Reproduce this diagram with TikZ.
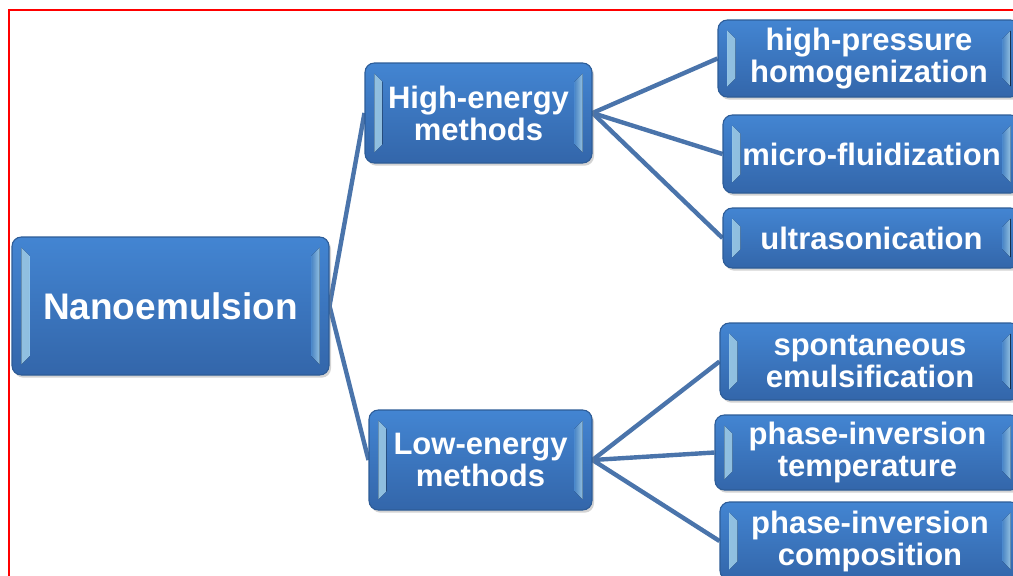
\documentclass[tikz,border=0pt]{standalone}
\usepackage{fontspec}
\setmainfont{Liberation Sans}
\usetikzlibrary{shadows,backgrounds}
\definecolor{boxtop}{HTML}{4385D2}
\definecolor{boxbot}{HTML}{3366AA}
\definecolor{boxedge}{HTML}{2D5C97}
\definecolor{bevel}{HTML}{A3D6F8}
\definecolor{linkblue}{HTML}{4A74AB}
\begin{document}
\begin{tikzpicture}[x=0.75pt,y=-0.75pt,
  box/.style={rounded corners=7pt, draw=boxedge, line width=0.8pt, top color=boxtop, bottom color=boxbot,
    text=white, align=center, inner sep=0pt, font=\fontsize{23.25}{24}\selectfont\bfseries,
    drop shadow={opacity=0.35, shadow xshift=1.5pt, shadow yshift=-2pt},
    path picture={
      \fill[sharp corners, left color=bevel, right color=boxtop!80!bevel, opacity=0.9]
        ([shift={(7pt,-8pt)}]path picture bounding box.north west) -- ([shift={(7pt,8pt)}]path picture bounding box.south west)
        -- ([shift={(13pt,14pt)}]path picture bounding box.south west) -- ([shift={(13pt,-14pt)}]path picture bounding box.north west) -- cycle;
      \fill[sharp corners, right color=bevel, left color=boxtop!80!bevel, opacity=0.9]
        ([shift={(-7pt,-8pt)}]path picture bounding box.north east) -- ([shift={(-7pt,8pt)}]path picture bounding box.south east)
        -- ([shift={(-13pt,14pt)}]path picture bounding box.south east) -- ([shift={(-13pt,-14pt)}]path picture bounding box.north east) -- cycle;
    }},
  link/.style={linkblue, line width=3.3pt}]
\useasboundingbox (0,0) rectangle (1013,575);
\clip (0,0) rectangle (1013,575);
\draw[red, line width=1.5pt] (9,10) rectangle (1040,600);

\node[box, minimum width=237.75pt, minimum height=103.5pt, font=\fontsize{27.75}{29}\selectfont\bfseries] (nano) at (170.5,306) {Nanoemulsion};

\node[box, minimum width=170.25pt, minimum height=75pt] (high) at (478.5,113) {High-energy\\methods};
\node[box, minimum width=167.25pt, minimum height=75pt] (low) at (480.5,460) {Low-energy\\methods};

\node[box, minimum width=226.5pt, minimum height=57.75pt] (hpress) at (869,58.5) {high-pressure\\homogenization};
\node[box, minimum width=222.75pt, minimum height=58.5pt] (mfluid) at (871.5,154) {micro-fluidization};
\node[box, minimum width=222.75pt, minimum height=45pt] (usonic) at (871.5,238) {ultrasonication};

\node[box, minimum width=225pt, minimum height=57.75pt] (spont) at (870,361.5) {spontaneous\\emulsification};
\node[box, minimum width=228.75pt, minimum height=56.25pt] (pitemp) at (867.5,452.5) {phase-inversion\\temperature};
\node[box, minimum width=225pt, minimum height=58.5pt] (picomp) at (870,541) {phase-inversion\\composition};

\begin{scope}[on background layer]
\draw[link] (nano.east) -- (high.west);
\draw[link] (nano.east) -- (low.west);
\draw[link] (high.east) -- (hpress.west);
\draw[link] (high.east) -- (mfluid.west);
\draw[link] (high.east) -- (usonic.west);
\draw[link] (low.east) -- (spont.west);
\draw[link] (low.east) -- (pitemp.west);
\draw[link] (low.east) -- (picomp.west);
\end{scope}
\end{tikzpicture}
\end{document}
